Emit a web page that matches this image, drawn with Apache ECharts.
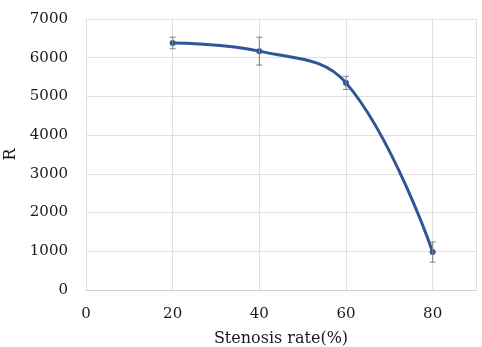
<!DOCTYPE html>
<html>
<head>
<meta charset="utf-8">
<script src="https://cdn.jsdelivr.net/npm/echarts@6/dist/echarts.min.js"></script>
<style>
  html, body { margin: 0; padding: 0; background: #fff; }
  #main { width: 482px; height: 347px; }
</style>
</head>
<body>
<div id="main"></div>
<script>
// stenosis rate (%) and resistance R
const stenosis = [20, 40, 60, 80];
const rValues = [6380, 6170, 5350, 980];
const rErrors = [150, 360, 170, 260];
const xTicks = [0, 20, 40, 60, 80];

const font = '"DejaVu Serif", "Liberation Serif", serif';
const chart = echarts.init(document.getElementById('main'));

const lineData = stenosis.map((s, i) => [s, rValues[i]]);
const errData = stenosis.map((s, i) => [s, rValues[i] - rErrors[i], rValues[i] + rErrors[i]]);

chart.setOption({
  animation: false,
  grid: { left: 86, right: 6, top: 19, bottom: 57, outerBoundsMode: 'none' },
  xAxis: {
    type: 'value',
    min: 0,
    max: 90,
    interval: 20,
    name: 'Stenosis rate(%)',
    nameLocation: 'middle',
    nameGap: 41,
    nameTextStyle: { fontFamily: font, fontSize: 16, color: '#1a1a1a' },
    axisLine: { lineStyle: { color: '#d0d0d0' } },
    axisTick: { show: false },
    axisLabel: {
      fontFamily: font, fontSize: 15, color: '#1a1a1a', margin: 17,
      showMaxLabel: false,
      formatter: v => (xTicks.includes(v) ? String(v) : '')
    },
    splitLine: { show: true, lineStyle: { color: '#e0e0e0' } }
  },
  yAxis: {
    type: 'value',
    min: 0,
    max: 7000,
    interval: 1000,
    name: 'R',
    nameLocation: 'middle',
    nameGap: 59,
    nameTextStyle: { fontFamily: font, fontSize: 16, color: '#1a1a1a' },
    axisLine: { show: true, lineStyle: { color: '#e0e0e0' } },
    axisTick: { show: false },
    axisLabel: {
      fontFamily: font, fontSize: 15, color: '#1a1a1a', margin: 18,
      formatter: v => String(v)
    },
    splitLine: { lineStyle: { color: '#e0e0e0' } }
  },
  series: [
    {
      type: 'line',
      data: lineData,
      smooth: 0.4,
      symbol: 'circle',
      symbolSize: 6,
      lineStyle: { color: '#2f5597', width: 3 },
      itemStyle: { color: '#2f5597' },
      z: 3
    },
    {
      type: 'custom',
      data: errData,
      z: 4,
      renderItem: (params, api) => {
        const x = api.value(0);
        const lo = api.coord([x, api.value(1)]);
        const hi = api.coord([x, api.value(2)]);
        const cap = 3;
        const style = { stroke: '#7f7f7f', lineWidth: 1 };
        return {
          type: 'group',
          children: [
            { type: 'line', shape: { x1: lo[0], y1: lo[1], x2: hi[0], y2: hi[1] }, style },
            { type: 'line', shape: { x1: lo[0] - cap, y1: lo[1], x2: lo[0] + cap, y2: lo[1] }, style },
            { type: 'line', shape: { x1: hi[0] - cap, y1: hi[1], x2: hi[0] + cap, y2: hi[1] }, style }
          ]
        };
      }
    }
  ]
});
</script>
</body>
</html>
